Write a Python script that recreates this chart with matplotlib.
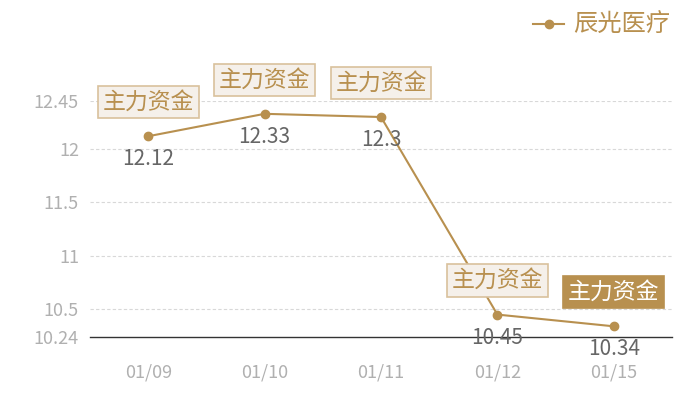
import matplotlib
matplotlib.use('Agg')
import matplotlib.pyplot as plt

plt.rcParams['font.family'] = ['Noto Sans CJK SC', 'DejaVu Sans']

# data
dates = ['01/09', '01/10', '01/11', '01/12', '01/15']
prices = [12.12, 12.33, 12.3, 10.45, 10.34]
yticks = [10.24, 10.5, 11, 11.5, 12, 12.45]
ytick_labels = ['10.24', '10.5', '11', '11.5', '12', '12.45']
tag = '主力资金'
series_name = '辰光医疗'

GOLD = '#b8904f'

fig = plt.figure(figsize=(7, 4), dpi=100)
ax = fig.add_axes([90 / 700, 63 / 400, 582 / 700, 236 / 400])

x = list(range(len(dates)))
ax.plot(x, prices, color=GOLD, lw=1.5, marker='o', ms=6, zorder=3,
        label=series_name, clip_on=False)

ax.set_xlim(-0.5, len(dates) - 0.5)
ax.set_ylim(10.24, 12.45)
ax.set_xticks(x)
ax.set_xticklabels(dates)
ax.set_yticks(yticks)
ax.set_yticklabels(ytick_labels)
ax.tick_params(axis='x', length=0, pad=19, labelsize=13, labelcolor='#b0b0b0')
ax.tick_params(axis='y', length=0, pad=8, labelsize=13, labelcolor='#b0b0b0')

for s in ['top', 'right', 'left']:
    ax.spines[s].set_visible(False)
ax.spines['bottom'].set_color('#333333')
ax.spines['bottom'].set_linewidth(1)

for v in yticks[1:]:
    ax.axhline(v, color='#d8d8d8', lw=0.8, ls=(0, (3, 2)), zorder=0)

for i, v in enumerate(prices):
    # value label under the point
    ax.annotate(str(v), (i, v), xytext=(0, -23), textcoords='offset pixels',
                ha='center', va='center', fontsize=15, color='#666666', zorder=5)
    # tag box above the point
    last = i == len(prices) - 1
    ax.annotate(tag, (i, v), xytext=(0, 34), textcoords='offset pixels',
                ha='center', va='center', fontsize=16.5,
                color='white' if last else GOLD, zorder=6,
                bbox=dict(boxstyle='square,pad=0.2',
                          fc=GOLD if last else '#f5f0ea',
                          ec=GOLD if last else '#d9c19c', lw=1.2))

leg = ax.legend(loc='upper right', bbox_to_anchor=(682 / 700, 1.0),
                bbox_transform=fig.transFigure, frameon=False,
                fontsize=17.5, handlelength=1.3, handletextpad=0.35,
                borderaxespad=0.1)
for t in leg.get_texts():
    t.set_color(GOLD)

fig.savefig('out.png', dpi=100)
